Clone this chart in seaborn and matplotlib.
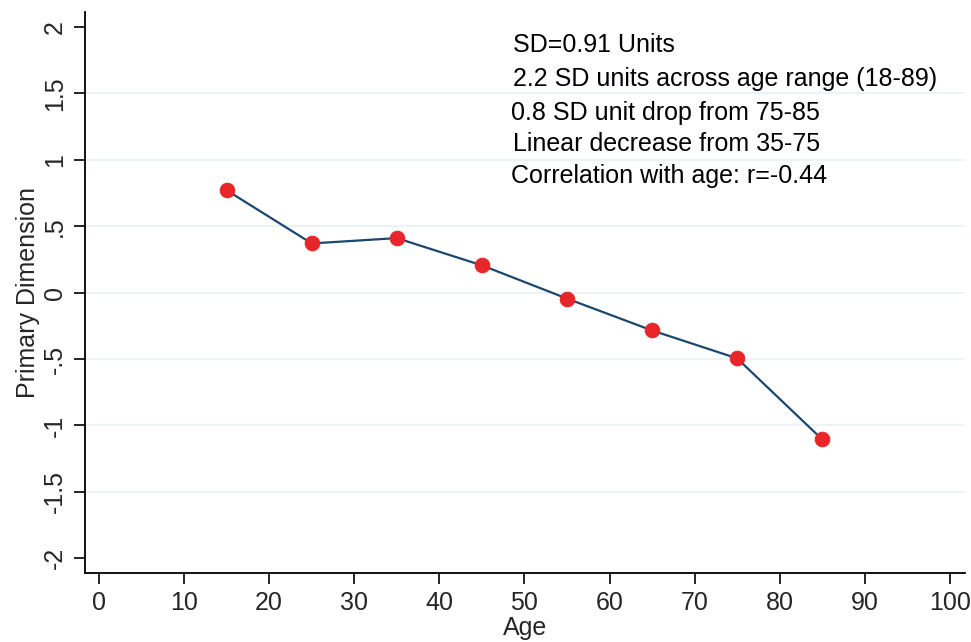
import matplotlib
matplotlib.use("Agg")
import matplotlib.pyplot as plt
import seaborn as sns
import pandas as pd
from matplotlib import font_manager

ages = [15, 25, 35, 45, 55, 65, 75, 85]
primary = [0.77, 0.37, 0.41, 0.205, -0.045, -0.285, -0.495, -1.105]
x_ticks = [0, 10, 20, 30, 40, 50, 60, 70, 80, 90, 100]
y_ticks = [-2, -1.5, -1, -0.5, 0, 0.5, 1, 1.5, 2]
y_tick_labels = ["-2", "-1.5", "-1", "-.5", "0", ".5", "1", "1.5", "2"]
notes = ["SD=0.91 Units",
         "2.2 SD units across age range (18-89)",
         "0.8 SD unit drop from 75-85",
         "Linear decrease from 35-75",
         "Correlation with age: r=-0.44"]
note_x = [48.6, 48.6, 48.4, 48.6, 48.4]
note_y = [1.86, 1.605, 1.355, 1.12, 0.875]

sns.set_theme(style="white")
names = {f.name for f in font_manager.fontManager.ttflist}
narrow = "Liberation Sans Narrow" if "Liberation Sans Narrow" in names else "Liberation Sans"
plt.rcParams["font.family"] = ["Liberation Sans", "DejaVu Sans"]

df = pd.DataFrame({"Age": ages, "Primary": primary})

fig = plt.figure(figsize=(9.71, 6.42), dpi=100)
ax = fig.add_axes([0.0875, 0.1075, 0.9065, 0.8735])

for t in y_ticks[1:-1]:
    ax.axhline(t, color="#EAF2F3", lw=1.3, zorder=0)

sns.lineplot(data=df, x="Age", y="Primary", ax=ax, color="#1A476F", lw=1.6,
             marker="o", markersize=10.5, markerfacecolor="#E8262A",
             markeredgecolor="#E8262A", zorder=3)

ax.set_xlim(-1.65, 101.8)
ax.set_ylim(-2.11, 2.11)
ax.set_xticks(x_ticks)
ax.set_xticklabels([str(v) for v in x_ticks], fontsize=18, family=narrow)
ax.set_yticks(y_ticks)
ax.set_yticklabels(y_tick_labels, fontsize=18, family=narrow, rotation=90, va="center")
ax.tick_params(axis="both", direction="out", length=8, width=1.2, color="black", pad=5)
ax.tick_params(axis="both", bottom=True, left=True)

for s in ["top", "right"]:
    ax.spines[s].set_visible(False)
for s in ["left", "bottom"]:
    ax.spines[s].set_color("black")
    ax.spines[s].set_linewidth(1.3)

ax.set_xlabel("Age", fontsize=18, family=narrow, labelpad=1)
ax.set_ylabel("Primary Dimension", fontsize=18, family=narrow, labelpad=2)

for tx, ty, s in zip(note_x, note_y, notes):
    ax.text(tx, ty, s, fontsize=18, ha="left", va="center", color="black")

fig.savefig("out.png", dpi=100)
